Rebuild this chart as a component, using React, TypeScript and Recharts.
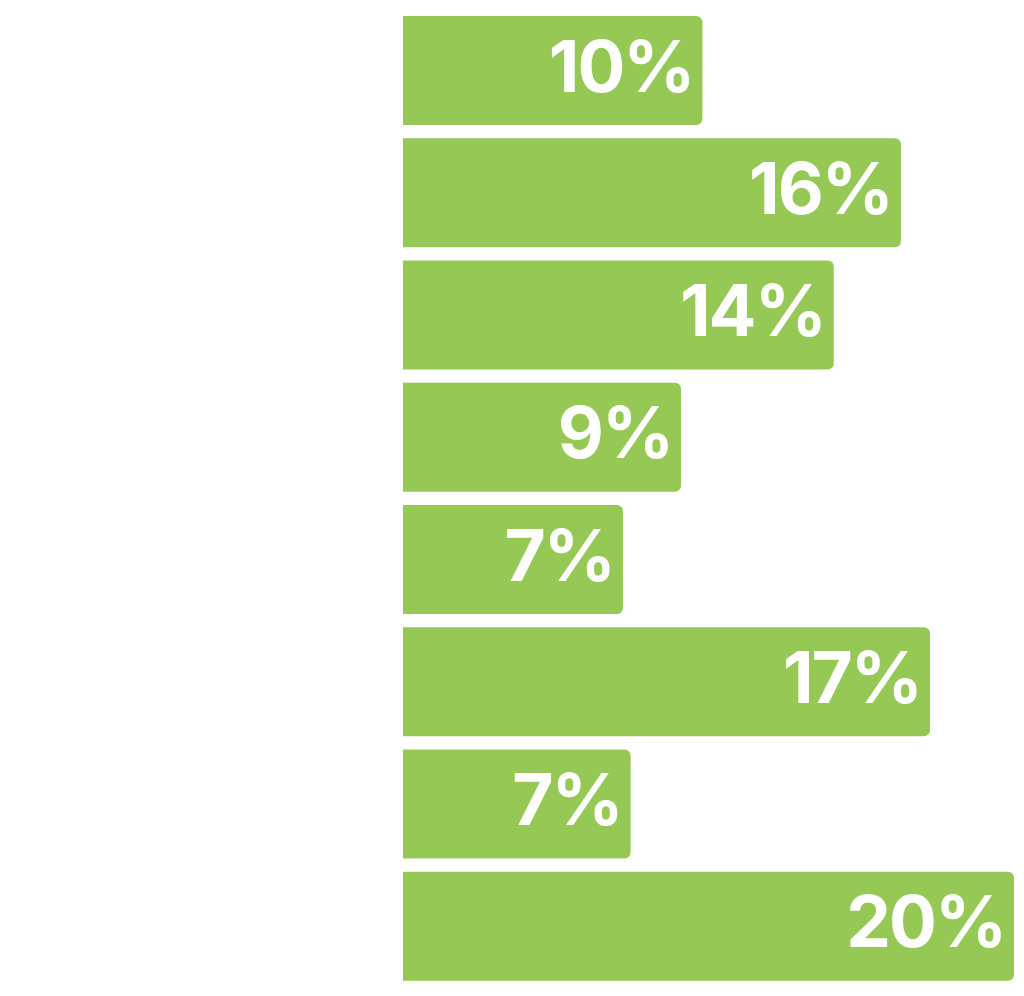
import { BarChart, Bar, XAxis, YAxis, LabelList } from "recharts";

// eight unlabeled rows, top to bottom
const rows = ["r1", "r2", "r3", "r4", "r5", "r6", "r7", "r8"];
const shares = [9.8, 16.3, 14.1, 9.1, 7.2, 17.25, 7.45, 20.0];

const data = rows.map((r, i) => ({ row: r, share: shares[i] }));

// percent label drawn inside the bar, right aligned
const ShareLabel = (props: any) => {
  const { x, y, width, height, value } = props;
  return (
    <text
      x={x + width - 9}
      y={y + height / 2 + 21}
      textAnchor="end"
      fill="#fff"
      fontFamily="Inter, sans-serif"
      fontWeight={700}
      fontSize={71}
      letterSpacing={-2}
    >
      {`${Math.round(value)}%`}
    </text>
  );
};

export default function App() {
  return (
    <div style={{ position: "absolute", left: 0, top: 0, background: "#fff" }}>
      <BarChart
        width={1024}
        height={996}
        data={data}
        layout="vertical"
        margin={{ top: 9, right: 10, bottom: 9, left: 403 }}
      >
        <XAxis type="number" domain={[0, 20]} hide />
        <YAxis type="category" dataKey="row" hide />
        <Bar dataKey="share" fill="#96C856" barSize={109} radius={[0, 6, 6, 0]} isAnimationActive={false}>
          <LabelList dataKey="share" content={ShareLabel} />
        </Bar>
      </BarChart>
    </div>
  );
}
